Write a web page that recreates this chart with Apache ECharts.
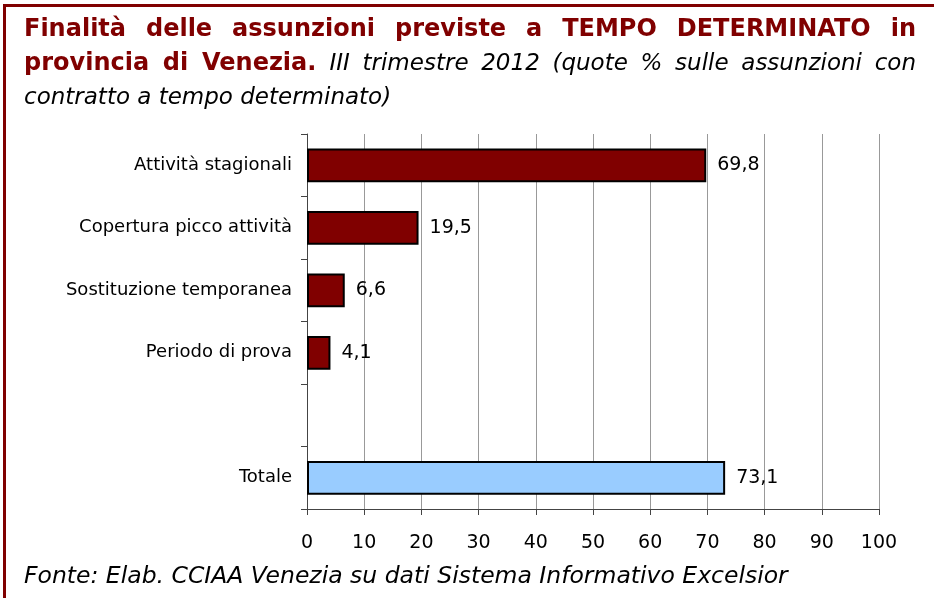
<!DOCTYPE html>
<html>
<head>
<meta charset="utf-8">
<script src="https://cdn.jsdelivr.net/npm/echarts@6/dist/echarts.min.js"></script>
<style>
  html, body { margin: 0; padding: 0; background: #fff; }
  #page { position: relative; width: 934px; height: 598px; overflow: hidden; }
  #borderTop { position: absolute; left: 3px; top: 4px; width: 931px; height: 3px; background: #800000; }
  #borderLeft { position: absolute; left: 3px; top: 4px; width: 3px; height: 594px; background: #800000; }
  #titolo {
    position: absolute; left: 24px; top: 11px; width: 892px;
    font-family: "DejaVu Sans", Verdana, sans-serif; font-size: 24px; line-height: 34px;
    color: #000;
  }
  #titolo div { white-space: nowrap; }
  #titolo .giust { text-align: justify; text-align-last: justify; }
  #titolo b { color: #800000; }
  #titolo i { font-size: 23px; }
</style>
</head>
<body>
<div id="page">
  <div id="chart" style="position:absolute;left:0;top:0;width:934px;height:598px;"></div>
  <div id="borderTop"></div>
  <div id="borderLeft"></div>
  <div id="titolo">
    <div class="giust"><b>Finalità delle assunzioni previste a TEMPO DETERMINATO in</b></div>
    <div class="giust"><b>provincia di Venezia.</b> <i>III trimestre 2012 (quote % sulle assunzioni con</i></div>
    <div><i>contratto a tempo determinato)</i></div>
  </div>
</div>
<script>
  // dati
  var categorie = ["Attività stagionali", "Copertura picco attività", "Sostituzione temporanea", "Periodo di prova", "", "Totale"];
  var valori = [69.8, 19.5, 6.6, 4.1, null, 73.1];
  var colori = ["#800000", "#800000", "#800000", "#800000", "#800000", "#99ccff"];
  var tickX = [0, 10, 20, 30, 40, 50, 60, 70, 80, 90, 100];
  var fonte = "Fonte: Elab. CCIAA Venezia su dati Sistema Informativo Excelsior";

  var font = "DejaVu Sans";
  var chart = echarts.init(document.getElementById("chart"));
  var option = {
    animation: false,
    graphic: [
      {
        type: "text",
        left: 24,
        top: 565,
        style: { text: fonte, font: "italic 23.5px " + font, fill: "#000" }
      }
    ],
    grid: { left: 307, right: 55, top: 134, bottom: 89, containLabel: false },
    xAxis: {
      type: "value",
      min: tickX[0],
      max: tickX[tickX.length - 1],
      interval: 10,
      axisLine: { show: true, lineStyle: { color: "#444", width: 1 } },
      axisTick: { show: true, length: 6, lineStyle: { color: "#444" } },
      axisLabel: { color: "#000", fontSize: 19, fontFamily: font, margin: 25 },
      splitLine: { show: true, lineStyle: { color: "#999", width: 1 } }
    },
    yAxis: {
      type: "category",
      inverse: true,
      data: categorie,
      axisLine: { show: true, lineStyle: { color: "#444", width: 1 } },
      axisTick: { show: true, length: 6, inside: false, lineStyle: { color: "#444" } },
      axisLabel: { color: "#000", fontSize: 18, fontFamily: font, margin: 15 }
    },
    series: [
      {
        type: "bar",
        barCategoryGap: "46%",
        data: valori.map(function (v, i) {
          return { value: v, itemStyle: { color: colori[i] } };
        }),
        itemStyle: { borderColor: "#000", borderWidth: 2 },
        label: {
          show: true,
          position: "right",
          distance: 11,
          color: "#000",
          fontSize: 19,
          fontFamily: font,
          formatter: function (p) {
            return p.value == null ? "" : p.value.toFixed(1).replace(".", ",");
          }
        }
      }
    ]
  };
  chart.setOption(option);
</script>
</body>
</html>
